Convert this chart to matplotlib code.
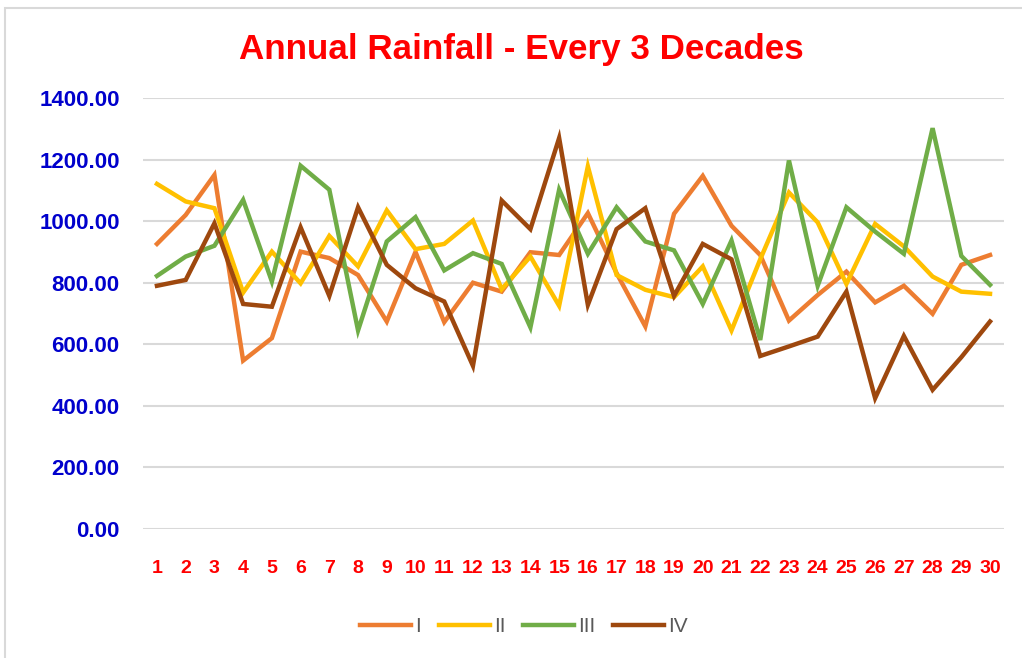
import matplotlib
matplotlib.use("Agg")
import matplotlib.pyplot as plt
from matplotlib.patches import Rectangle

years = list(range(1, 31))
series_names = ["I", "II", "III", "IV"]
s1 = [926, 1020, 1150, 547, 620, 901, 880, 825, 674, 900, 672, 800, 771, 899, 890,
      1026, 831, 658, 1024, 1147, 985, 890, 677, 760, 836, 736, 790, 699, 858, 890]
s2 = [1121, 1064, 1042, 768, 901, 798, 952, 853, 1035, 909, 926, 1002, 779, 885, 725,
      1178, 825, 777, 753, 853, 645, 876, 1093, 996, 796, 991, 918, 820, 771, 764]
s3 = [822, 885, 920, 1069, 804, 1180, 1102, 645, 934, 1013, 840, 896, 861, 655, 1102,
      894, 1045, 934, 905, 731, 937, 614, 1197, 790, 1045, 966, 894, 1302, 887, 793]
s4 = [790, 809, 993, 731, 722, 980, 757, 1045, 858, 782, 739, 530, 1067, 974, 1270,
      728, 974, 1042, 757, 926, 876, 562, 593, 625, 771, 425, 627, 452, 558, 674]
colors = ["#ED7D31", "#FFC000", "#70AD47", "#9E480E"]
yticks = [0, 200, 400, 600, 800, 1000, 1200, 1400]

plt.rcParams['font.family'] = ['Liberation Sans', 'DejaVu Sans']

fig = plt.figure(figsize=(10.22, 6.58), dpi=100)
W, H = 1022, 658
fig.patches.append(Rectangle((5 / W, -0.1), 1.2, 1 - 8 / H + 0.1, transform=fig.transFigure,
                             fill=False, edgecolor="#D9D9D9", linewidth=1.5))

ax = fig.add_axes([142.6 / W, 1 - 529 / H, (1004.4 - 142.6) / W, (529 - 98) / H])
for vals, c, name in zip([s1, s2, s3, s4], colors, series_names):
    ax.plot(years, vals, color=c, linewidth=3.2, label=name, solid_joinstyle="miter")

ax.set_xlim(0.5, 30.5)
ax.set_ylim(0, 1400)
ax.set_yticks(yticks)
ax.set_yticklabels([f"{v:.2f}" for v in yticks])
ax.set_xticks(years)
ax.set_xticklabels([str(y) for y in years])
ax.grid(axis="y", color="#D9D9D9", linewidth=1.5)
ax.set_axisbelow(True)
for sp in ax.spines.values():
    sp.set_visible(False)
ax.tick_params(axis="y", length=0, pad=16.5, labelsize=16, labelcolor="#0000CC")
ax.tick_params(axis="x", length=0, pad=22, labelsize=14, labelcolor="#FF0000")
for lab in ax.get_yticklabels() + ax.get_xticklabels():
    lab.set_fontweight("bold")

fig.text(521 / W, 1 - 49 / H, "Annual Rainfall - Every 3 Decades", ha="center", va="center",
         fontsize=25.2, fontweight="bold", color="#FF0000")

leg = fig.legend(loc="center", bbox_to_anchor=(524 / W, 1 - 627 / H), ncol=4, frameon=False,
                 fontsize=15, handlelength=2.45, handletextpad=0.2, columnspacing=0.85)
for t in leg.get_texts():
    t.set_color("#595959")

fig.savefig("out.png", dpi=100)
